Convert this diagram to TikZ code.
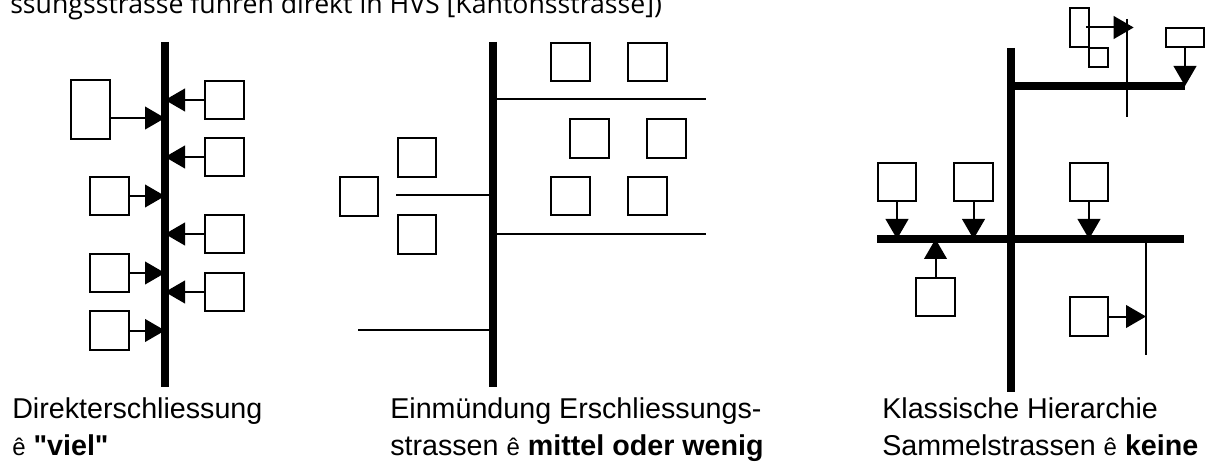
\documentclass[tikz,border=0pt]{standalone}
\usepackage{fontspec}
\setmainfont{Liberation Sans}
\newfontfamily\headfont{Open Sans}
\usetikzlibrary{arrows.meta}

\begin{document}
\begin{tikzpicture}[x=0.75pt,y=-0.75pt,
  lot/.style={draw,line width=1.5pt,inner sep=0pt,minimum width=29pt,minimum height=29pt},
  road/.style={line width=6pt},
  lane/.style={line width=1.5pt},
  feed/.style={line width=1.5pt,-{Triangle[length=15pt,width=17pt]}},
  caption/.style={anchor=base west,inner sep=0pt,font=\fontsize{21.5}{25}\selectfont}]

\useasboundingbox (0,0) rectangle (1212,466);

% Heading line, cut off at the top
\node[anchor=base west,inner sep=0pt,font=\headfont\fontsize{20}{22}\selectfont]
  (head) at (10,14) {ssungsstrasse führen direkt in HVS [Kantonsstrasse])};

% ---- Direkterschliessung ----
\coordinate (a0) at (165,42);
\coordinate (a1) at (165,387);
\draw[road] (a0) -- (a1);

% Lots to the left
\node[lot,minimum height=44pt] (A1) at (90.5,109.5) {};
\node[lot] (A2) at (109.5,196) {};
\node[lot] (A3) at (109.5,273) {};
\node[lot] (A4) at (109.5,330.5) {};

% Lots to the right
\node[lot] (A5) at (224.5,100) {};
\node[lot] (A6) at (224.5,157) {};
\node[lot] (A7) at (224.5,234) {};
\node[lot] (A8) at (224.5,292) {};

\draw[feed] ([yshift=-6.4pt]A1.east) -- ([yshift=-6.4pt]A1.east -| a0);
\draw[feed] (A2.east) -- (A2.east -| a0);
\draw[feed] (A3.east) -- (A3.east -| a0);
\draw[feed] (A4.east) -- (A4.east -| a0);
\draw[feed] (A5.west) -- (A5.west -| a0);
\draw[feed] (A6.west) -- (A6.west -| a0);
\draw[feed] (A7.west) -- (A7.west -| a0);
\draw[feed] (A8.west) -- (A8.west -| a0);

\node[caption] (capA) at (12,418) {Direkterschliessung};
\node[caption] (capA') at (12,455)
  {{\fontsize{18}{18}\selectfont ê} \textbf{\textquotedbl viel\textquotedbl}};

% ---- Einmuendung Erschliessungsstrassen ----
\coordinate (b0) at (493,42);
\coordinate (b1) at (493,387);
\draw[road] (b0) -- (b1);

% Side streets
\coordinate (b2) at (706,99);
\coordinate (b3) at (706,234);
\coordinate (b4) at (396,195);
\coordinate (b5) at (358,330);
\draw[lane] (b2 -| b0) -- (b2);
\draw[lane] (b3 -| b0) -- (b3);
\draw[lane] (b4 -| b0) -- (b4);
\draw[lane] (b5 -| b0) -- (b5);

% Lots along the side streets
\node[lot] (B1) at (570.5,62) {};
\node[lot] (B2) at (647.5,62) {};
\node[lot] (B3) at (589.5,138.5) {};
\node[lot] (B4) at (666.5,138.5) {};
\node[lot] (B5) at (570.5,196) {};
\node[lot] (B6) at (647.5,196) {};
\node[lot] (B7) at (417,157.5) {};
\node[lot] (B8) at (417,234.5) {};
\node[lot] (B9) at (359,196.5) {};

\node[caption] (capB) at (390,418) {Einmündung Erschliessungs-};
\node[caption] (capB') at (390,455)
  {strassen {\fontsize{18}{18}\selectfont ê} \textbf{mittel oder wenig}};

% ---- Klassische Hierarchie ----
\coordinate (c0) at (1011,48);
\coordinate (c1) at (1011,392);
\coordinate (c2) at (1185,86);
\coordinate (c3) at (877,239);
\coordinate (c4) at (1184,239);
\draw[road] (c0) -- (c1);
\draw[road] (c2 -| c0) -- (c2);
\draw[road] (c3) -- (c4);

% Access lanes
\coordinate (c5) at (1127,19);
\coordinate (c6) at (1127,117);
\coordinate (c7) at (1146,239);
\coordinate (c8) at (1146,355);
\draw[lane] (c5) -- (c6);
\draw[lane] (c7) -- (c8);

% Lots
\node[lot,minimum width=14.5pt,minimum height=29.5pt] (C1) at (1079.5,27.5) {};
\node[lot,minimum width=14.5pt,minimum height=14.5pt] (C2) at (1098.5,57.5) {};
\node[lot,minimum height=14.5pt] (C3) at (1185,37.5) {};
\node[lot] (C4) at (897,182) {};
\node[lot] (C5) at (973.5,182) {};
\node[lot] (C6) at (1089,182) {};
\node[lot] (C7) at (935.5,297) {};
\node[lot] (C8) at (1089,316.5) {};

\draw[feed] ([xshift=5pt]C1.center) -- ([xshift=5pt]C1.center -| c5);
\draw[feed] (C3.south) -- (C3.south |- c2);
\draw[feed] (C4.south) -- (C4.south |- c3);
\draw[feed] (C5.south) -- (C5.south |- c3);
\draw[feed] (C6.south) -- (C6.south |- c3);
\draw[feed] (C7.north) -- (C7.north |- c3);
\draw[feed] (C8.east) -- (C8.east -| c7);

\node[caption] (capC) at (882,418) {Klassische Hierarchie};
\node[caption] (capC') at (882,455)
  {Sammelstrassen {\fontsize{18}{18}\selectfont ê} \textbf{keine}};

\end{tikzpicture}
\end{document}
